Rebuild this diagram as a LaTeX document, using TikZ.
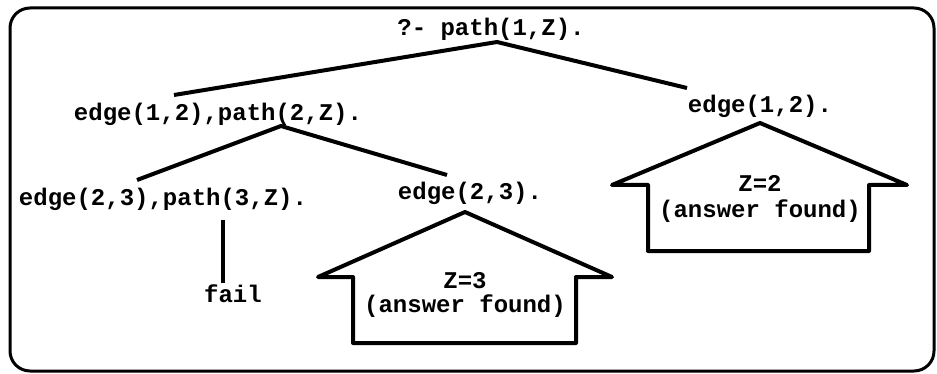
\documentclass[tikz,border=0pt]{standalone}
\usepackage{fontspec}
\setmonofont{Liberation Mono}
\begin{document}
\begin{tikzpicture}[x=1pt,y=-1pt,
  lbl/.style={font=\fontsize{24}{26}\selectfont\ttfamily\bfseries, inner sep=0pt, anchor=base},
  conn/.style={line width=4pt, line cap=butt},
  house/.style={line width=4pt, line join=round, fill=white},
  frame/.style={line width=3pt, rounded corners=20pt}]
\useasboundingbox (0,0) rectangle (937,374);
\draw[frame] (10,8) rectangle (934,371);

% text nodes
\node[lbl] (root) at (491,36) {?- path(1,Z).};
\node[lbl] (g1) at (218,121) {edge(1,2),path(2,Z).};
\node[lbl] (e12) at (760,113) {edge(1,2).};
\node[lbl] (g2) at (163,206) {edge(2,3),path(3,Z).};
\node[lbl] (e23) at (470,200) {edge(2,3).};
\node[lbl] (fail) at (233,302) {fail};

% connector end points
\coordinate (rA) at (497,42);
\coordinate (g1T) at (174,95);
\coordinate (e12T) at (687,88);
\coordinate (g1A) at (281,126);
\coordinate (g2T) at (137,180);
\coordinate (e23T) at (447,175);
\coordinate (g2B) at (223,220);
\coordinate (failT) at (223,283);

\draw[conn] (g1T) -- (rA) -- (e12T);
\draw[conn] (g2T) -- (g1A) -- (e23T);
\draw[conn] (g2B) -- (failT);

% answer houses
\draw[house] (760,123) -- (907,185) -- (869,185) -- (869,251) -- (648,251) -- (648,185) -- (612,185) -- cycle;
\node[lbl] (z2) at (760,192) {Z=2};
\node[lbl] (a2) at (760,218) {(answer found)};

\draw[house] (465,212) -- (612,277) -- (576,277) -- (576,343) -- (353,343) -- (353,277) -- (318,277) -- cycle;
\node[lbl] (z3) at (465,288) {Z=3};
\node[lbl] (a3) at (465,312) {(answer found)};
\end{tikzpicture}
\end{document}
